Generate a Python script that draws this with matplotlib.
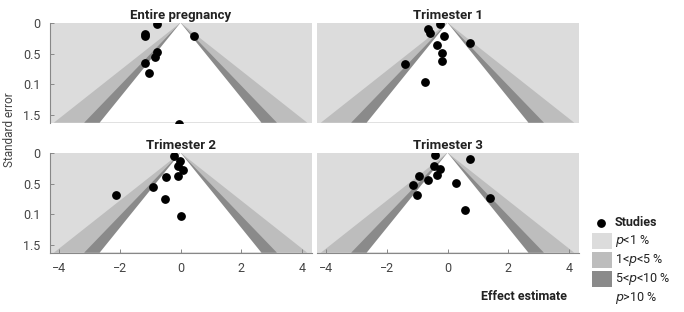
import matplotlib
matplotlib.use("Agg")
import matplotlib.pyplot as plt
import numpy as np
from matplotlib.patches import Rectangle

plt.rcParams['font.family'] = ['Roboto', 'DejaVu Sans']

# Data
panel_titles = ["Entire pregnancy", "Trimester 1", "Trimester 2", "Trimester 3"]

effect_entire = [-0.77, -1.16, -1.16, 0.44, -0.79, -0.85, -1.16, -1.05, -0.05]
se_entire = [0.02, 0.18, 0.22, 0.21, 0.48, 0.56, 0.66, 0.82, 1.64]

effect_t1 = [-0.26, -0.65, -0.57, -0.13, 0.74, -0.35, -0.19, -0.19, -1.40, -0.75]
se_t1 = [0.02, 0.10, 0.16, 0.21, 0.33, 0.36, 0.49, 0.62, 0.67, 0.96]

effect_t2 = [-0.22, -0.02, -0.09, 0.09, -0.48, -0.10, -0.90, -2.12, -0.51, 0.01]
se_t2 = [0.05, 0.13, 0.22, 0.28, 0.40, 0.37, 0.56, 0.68, 0.75, 1.03]

effect_t3 = [-0.41, 0.75, -0.46, -0.25, -0.36, -0.93, -0.66, -1.13, 0.28, -1.00, 1.40, 0.59]
se_t3 = [0.03, 0.11, 0.22, 0.27, 0.36, 0.38, 0.45, 0.52, 0.49, 0.68, 0.74, 0.93]

x_ticks = [-4, -2, 0, 2, 4]
y_ticks = [0, 0.5, 1.0, 1.5]
y_tick_labels = ["0", "0.5", "0.1", "1.5"]

legend_labels = ["Studies", "$p$<1 %", "1<$p$<5 %", "5<$p$<10 %", "$p$>10 %"]

# contour levels (99 %, 95 %, 90 %) and their fills
z_levels = [2.576, 1.96, 1.645]
bg_color = "#dcdcdc"
band_colors = ["#bdbdbd", "#8a8a8a", "white"]
se_max = 1.62
xlim = (-4.3, 4.33)

effects = [effect_entire, effect_t1, effect_t2, effect_t3]
ses = [se_entire, se_t1, se_t2, se_t3]

W, H = 684, 312
fig = plt.figure(figsize=(W / 100, H / 100), dpi=100)

lefts = [50, 317]
tops = [22.7, 152.7]
pw, ph = 262, 100

for i in range(4):
    row, col = divmod(i, 2)
    ax = fig.add_axes([lefts[col] / W, (H - tops[row] - ph) / H, pw / W, ph / H])
    ax.set_facecolor(bg_color)
    for z, c in zip(z_levels, band_colors):
        ax.fill([-z * se_max, 0, z * se_max], [se_max, 0, se_max], color=c, lw=0, zorder=1)
    ax.scatter(effects[i], ses[i], s=28, color="black", zorder=3)
    ax.set_xlim(*xlim)
    ax.set_ylim(se_max, 0)
    ax.set_title(panel_titles[i], fontsize=9.5, fontweight="bold", color="#222222", pad=3)

    for s in ["top", "right"]:
        ax.spines[s].set_visible(False)
    ax.spines["left"].set_color("#888888")
    ax.spines["bottom"].set_color("#888888")
    ax.spines["left"].set_linewidth(0.8)
    ax.spines["bottom"].set_linewidth(0.8)
    ax.tick_params(direction="in", length=3, width=0.7, color="#888888",
                   labelsize=9, labelcolor="#444444", pad=7)

    ax.set_xticks(x_ticks)
    ax.set_yticks(y_ticks)
    ax.set_yticklabels(y_tick_labels)
    if row == 0:
        ax.spines["bottom"].set_visible(False)
        ax.tick_params(axis="x", bottom=False, labelbottom=False)
    if col == 1:
        ax.spines["left"].set_visible(False)
        ax.tick_params(axis="y", left=False, labelleft=False)

fig.text(10 / W, (H - 130) / H, "Standard error", rotation=90, fontsize=8.5,
         color="#444444", ha="center", va="center")
fig.text(524 / W, (H - 296) / H, "Effect estimate", fontsize=9, fontweight="bold",
         color="#222222", ha="center", va="center")

# legend drawn in pixel coordinates
lax = fig.add_axes([0, 0, 1, 1])
lax.set_xlim(0, W)
lax.set_ylim(H, 0)
lax.axis("off")
leg_y = [223, 241, 260, 279, 298]
lax.scatter([601], [leg_y[0]], s=28, color="black")
for yy, c in zip(leg_y[1:], [bg_color] + band_colors):
    lax.add_patch(Rectangle((592, yy - 8), 20, 16, color=c, lw=0))
for k, (yy, lab) in enumerate(zip(leg_y, legend_labels)):
    lax.text(615, yy, lab, fontsize=9, va="center", ha="left",
             color="#222222", fontweight="bold" if k == 0 else "normal")

fig.savefig("out.png", dpi=100)
